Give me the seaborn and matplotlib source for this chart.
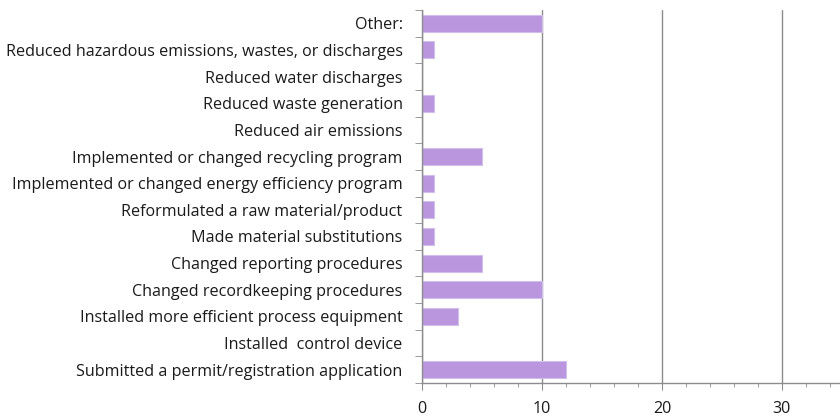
import pandas as pd
import seaborn as sns
import matplotlib.pyplot as plt
from matplotlib.ticker import MultipleLocator

categories = [
    "Other:",
    "Reduced hazardous emissions, wastes, or discharges",
    "Reduced water discharges",
    "Reduced waste generation",
    "Reduced air emissions",
    "Implemented or changed recycling program",
    "Implemented or changed energy efficiency program",
    "Reformulated a raw material/product",
    "Made material substitutions",
    "Changed reporting procedures",
    "Changed recordkeeping procedures",
    "Installed more efficient process equipment",
    "Installed  control device",
    "Submitted a permit/registration application",
]
counts = [10, 1, 0, 1, 0, 5, 1, 1, 1, 5, 10, 3, 0, 12]

df = pd.DataFrame({"action": categories, "count": counts})

sns.set_style("white")
plt.rcParams["font.family"] = ["Open Sans", "DejaVu Sans"]

fig = plt.figure(figsize=(8.4, 4.17), dpi=100)
ax = fig.add_axes([0.5024, 0.0815, 0.4976, 0.8945])

sns.barplot(data=df, x="count", y="action", order=categories, orient="h",
            color="#b996de", saturation=1, width=0.64,
            edgecolor="#d2bdec", linewidth=0.8, ax=ax)

ax.set_xlim(0, 34.85)
ax.set_ylim(len(categories) - 0.5, -0.5)
ax.xaxis.set_major_locator(MultipleLocator(10))
ax.xaxis.set_minor_locator(MultipleLocator(2))
ax.grid(axis="x", which="major", color="#8c8c8c", linewidth=1)
ax.set_axisbelow(True)

for s in ["top", "right"]:
    ax.spines[s].set_visible(False)
for s in ["left", "bottom"]:
    ax.spines[s].set_color("#8c8c8c")
    ax.spines[s].set_linewidth(1)

ax.tick_params(axis="x", which="major", direction="out", length=5, color="#8c8c8c",
               labelsize=11.6, labelcolor="#1a1a1a", pad=8, bottom=True)
ax.tick_params(axis="x", which="minor", direction="out", length=3, color="#8c8c8c", bottom=True)
# category boundary ticks on y axis
ax.set_yticks([i - 0.5 for i in range(len(categories) + 1)], minor=True)
ax.tick_params(axis="y", which="minor", direction="out", length=5, color="#8c8c8c", left=True)
ax.tick_params(axis="y", which="major", length=0, labelsize=11.6, labelcolor="#1a1a1a", pad=14)

ax.set_xlabel("")
ax.set_ylabel("")

fig.savefig("out.png", dpi=100)
